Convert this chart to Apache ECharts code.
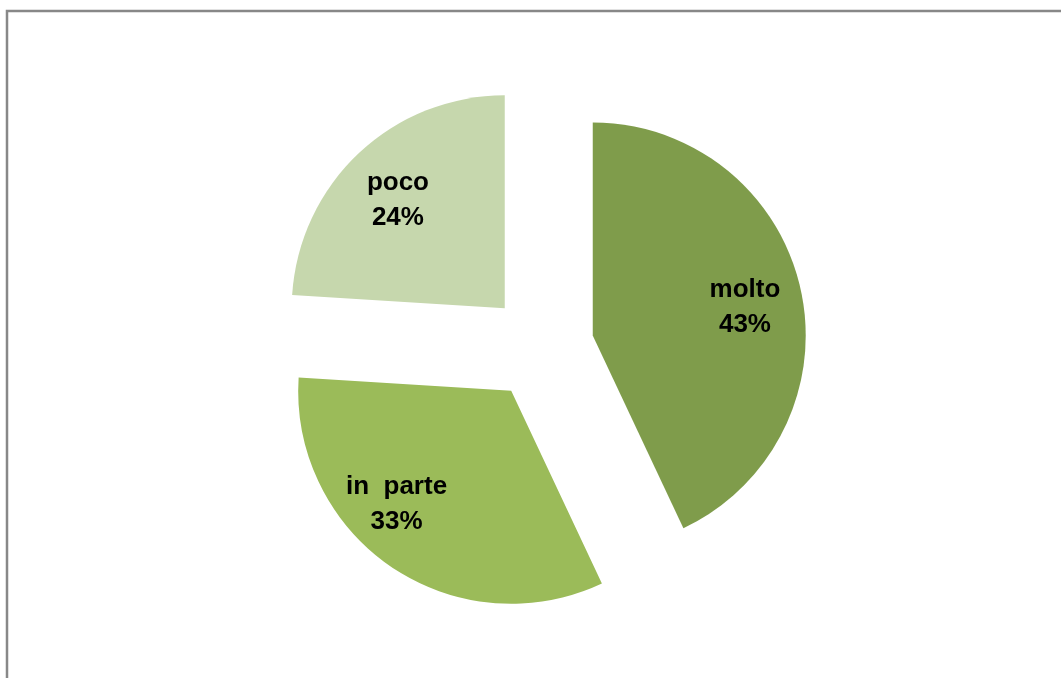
<!DOCTYPE html>
<html>
<head>
<meta charset="utf-8">
<script src="https://cdn.jsdelivr.net/npm/echarts@6/dist/echarts.min.js"></script>
<style>
  html, body { margin: 0; padding: 0; background: #fff; }
  #main { width: 1061px; height: 678px; }
</style>
</head>
<body>
<div id="main"></div>
<script>
const categories = ['molto', 'in  parte', 'poco']
const values = [43, 33, 24]
const colors = ['#7f9c4b', '#9bbb59', '#c6d7ad']

const chart = echarts.init(document.getElementById('main'))

// same geometry for both series so the labels follow the exploded slices
const center = [541, 347]
const offset = 53

const slices = categories.map((name, i) => ({
  name: name,
  value: values[i],
  selected: true,
  itemStyle: { color: colors[i] }
}))

chart.setOption({
  animation: false,
  graphic: [{
    type: 'rect',
    shape: { x: 7, y: 11, width: 1100, height: 720 },
    style: { fill: 'none', stroke: '#888888', lineWidth: 2.5 },
    silent: true
  }],
  series: [
    {
      type: 'pie',
      center: center,
      radius: 213,
      startAngle: 90,
      selectedMode: 'multiple',
      selectedOffset: offset,
      silent: true,
      label: { show: false },
      labelLine: { show: false },
      emphasis: { disabled: true },
      data: slices
    },
    {
      // transparent ring, only used to place the labels further out
      type: 'pie',
      center: center,
      radius: [93, 213],
      startAngle: 90,
      selectedMode: 'multiple',
      selectedOffset: offset,
      silent: true,
      itemStyle: { color: 'transparent' },
      emphasis: { disabled: true },
      labelLine: { show: false },
      label: {
        show: true,
        position: 'inside',
        formatter: p => `${p.name}\n${Math.round(p.percent)}%`,
        fontFamily: "'Liberation Sans', Arial, sans-serif",
        fontWeight: 'bold',
        fontSize: 26,
        lineHeight: 35,
        color: '#000',
        align: 'center'
      },
      // excel nudged the "in parte" label a bit towards the outside
      labelLayout: p => p.dataIndex === 1 ? { dx: -27, dy: -16 } : { dy: 6 },
      data: slices.map(d => ({ name: d.name, value: d.value, selected: true }))
    }
  ]
})
</script>
</body>
</html>
